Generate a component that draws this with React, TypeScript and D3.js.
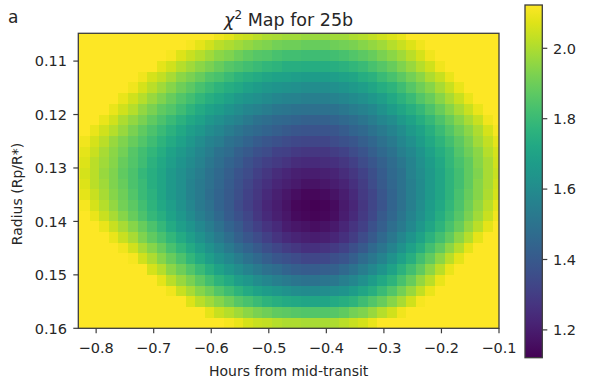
import React from "react";
import * as d3 from "d3";

// Column centres (hours from mid-transit) and row centres (Rp/R*) of the χ² grid
const hours = [
  -0.8362, -0.8195, -0.8028, -0.7862, -0.7695, -0.7528, -0.7362, -0.7195, -0.7028, -0.6862,
  -0.6695, -0.6528, -0.6362, -0.6195, -0.6028, -0.5862, -0.5695, -0.5528, -0.5362, -0.5195,
  -0.5028, -0.4862, -0.4695, -0.4528, -0.4362, -0.4195, -0.4028, -0.3862, -0.3695, -0.3528,
  -0.3362, -0.3195, -0.3028, -0.2862, -0.2695, -0.2528, -0.2362, -0.2195, -0.2028, -0.1862,
  -0.1695, -0.1528, -0.1362, -0.1195, -0.1028,
];
const radii = [
  0.105, 0.107, 0.109, 0.111, 0.113, 0.115, 0.117, 0.119, 0.121, 0.123, 0.125, 0.127, 0.129, 0.131,
  0.133, 0.135, 0.137, 0.139, 0.141, 0.143, 0.145, 0.147, 0.149, 0.151, 0.153, 0.155, 0.157, 0.159,
];

// χ² values, one row per radius (top to bottom), one column per hour
const chi2 = [
  [2.63,2.59,2.54,2.50,2.46,2.42,2.39,2.35,2.31,2.28,2.24,2.21,2.18,2.15,2.13,2.10,2.08,2.05,2.04,2.02,2.00,1.99,1.98,1.98,1.97,1.97,1.97,1.98,1.98,2.00,2.01,2.03,2.05,2.07,2.09,2.12,2.15,2.18,2.21,2.25,2.29,2.32,2.36,2.40,2.45],
  [2.56,2.52,2.48,2.44,2.40,2.36,2.32,2.28,2.24,2.21,2.17,2.14,2.11,2.08,2.05,2.02,2.00,1.98,1.96,1.94,1.93,1.91,1.90,1.90,1.89,1.89,1.89,1.90,1.91,1.92,1.94,1.96,1.98,2.01,2.04,2.07,2.10,2.14,2.18,2.22,2.26,2.30,2.35,2.39,2.44],
  [2.50,2.46,2.41,2.37,2.33,2.29,2.25,2.21,2.18,2.14,2.11,2.07,2.04,2.01,1.98,1.95,1.93,1.90,1.88,1.86,1.85,1.83,1.82,1.82,1.81,1.81,1.81,1.82,1.83,1.85,1.87,1.89,1.92,1.95,1.98,2.02,2.06,2.10,2.14,2.18,2.23,2.28,2.33,2.38,2.43],
  [2.45,2.41,2.36,2.32,2.28,2.24,2.20,2.16,2.12,2.08,2.05,2.01,1.98,1.95,1.92,1.89,1.86,1.84,1.82,1.80,1.78,1.77,1.75,1.75,1.74,1.74,1.74,1.75,1.76,1.78,1.80,1.83,1.86,1.89,1.93,1.97,2.01,2.05,2.10,2.14,2.19,2.24,2.29,2.35,2.40],
  [2.40,2.35,2.31,2.27,2.22,2.18,2.14,2.10,2.06,2.03,1.99,1.95,1.92,1.89,1.85,1.83,1.80,1.77,1.75,1.73,1.71,1.70,1.69,1.68,1.67,1.67,1.67,1.68,1.70,1.71,1.74,1.76,1.80,1.83,1.87,1.91,1.95,2.00,2.04,2.09,2.14,2.20,2.25,2.30,2.36],
  [2.35,2.31,2.26,2.22,2.18,2.14,2.10,2.06,2.02,1.98,1.94,1.90,1.87,1.83,1.80,1.77,1.74,1.72,1.69,1.67,1.65,1.64,1.63,1.62,1.61,1.61,1.61,1.62,1.64,1.66,1.68,1.71,1.74,1.77,1.81,1.86,1.90,1.94,1.99,2.04,2.09,2.14,2.20,2.25,2.30],
  [2.31,2.26,2.22,2.18,2.13,2.09,2.05,2.01,1.97,1.93,1.89,1.85,1.82,1.78,1.75,1.72,1.69,1.66,1.64,1.62,1.60,1.58,1.57,1.56,1.55,1.55,1.55,1.56,1.58,1.60,1.62,1.65,1.68,1.72,1.76,1.80,1.85,1.89,1.94,1.99,2.04,2.09,2.14,2.20,2.25],
  [2.26,2.22,2.18,2.13,2.09,2.05,2.01,1.96,1.92,1.88,1.85,1.81,1.77,1.73,1.70,1.67,1.64,1.61,1.58,1.56,1.54,1.52,1.51,1.50,1.49,1.49,1.49,1.50,1.52,1.54,1.56,1.59,1.63,1.67,1.71,1.75,1.79,1.84,1.89,1.94,1.99,2.04,2.09,2.15,2.20],
  [2.22,2.18,2.13,2.09,2.05,2.00,1.96,1.92,1.88,1.84,1.80,1.76,1.72,1.69,1.65,1.62,1.59,1.56,1.53,1.50,1.48,1.46,1.45,1.44,1.43,1.43,1.43,1.44,1.46,1.48,1.51,1.54,1.58,1.61,1.66,1.70,1.74,1.79,1.84,1.89,1.94,1.99,2.04,2.10,2.15],
  [2.18,2.14,2.09,2.05,2.01,1.97,1.92,1.88,1.84,1.80,1.76,1.72,1.68,1.65,1.61,1.58,1.54,1.51,1.48,1.46,1.44,1.42,1.40,1.39,1.38,1.38,1.38,1.39,1.41,1.44,1.46,1.50,1.53,1.57,1.61,1.66,1.70,1.75,1.80,1.85,1.90,1.95,2.00,2.06,2.11],
  [2.15,2.10,2.06,2.02,1.97,1.93,1.89,1.85,1.81,1.77,1.73,1.69,1.65,1.61,1.57,1.54,1.50,1.47,1.44,1.41,1.39,1.37,1.35,1.34,1.33,1.33,1.33,1.35,1.37,1.39,1.42,1.45,1.49,1.53,1.58,1.62,1.67,1.72,1.77,1.82,1.87,1.92,1.98,2.03,2.08],
  [2.12,2.08,2.04,1.99,1.95,1.91,1.86,1.82,1.78,1.74,1.70,1.66,1.62,1.58,1.54,1.50,1.47,1.43,1.40,1.37,1.35,1.32,1.31,1.29,1.28,1.28,1.28,1.30,1.32,1.35,1.38,1.42,1.46,1.50,1.55,1.59,1.64,1.69,1.74,1.79,1.85,1.90,1.95,2.01,2.06],
  [2.11,2.07,2.02,1.98,1.94,1.89,1.85,1.81,1.76,1.72,1.68,1.64,1.60,1.56,1.52,1.48,1.44,1.41,1.37,1.34,1.31,1.29,1.27,1.25,1.24,1.24,1.25,1.26,1.28,1.31,1.35,1.39,1.43,1.47,1.52,1.57,1.62,1.67,1.72,1.78,1.83,1.88,1.94,1.99,2.05],
  [2.11,2.06,2.02,1.97,1.93,1.88,1.84,1.79,1.75,1.71,1.66,1.62,1.58,1.54,1.50,1.46,1.42,1.38,1.35,1.31,1.28,1.25,1.23,1.21,1.20,1.20,1.21,1.22,1.25,1.28,1.32,1.36,1.41,1.46,1.50,1.56,1.61,1.66,1.71,1.77,1.82,1.88,1.93,1.99,2.04],
  [2.12,2.07,2.02,1.98,1.93,1.89,1.84,1.80,1.75,1.71,1.66,1.62,1.57,1.53,1.49,1.45,1.41,1.37,1.33,1.29,1.26,1.23,1.21,1.19,1.17,1.17,1.18,1.20,1.22,1.26,1.30,1.35,1.40,1.45,1.50,1.55,1.60,1.66,1.71,1.77,1.82,1.88,1.94,1.99,2.05],
  [2.13,2.08,2.04,1.99,1.94,1.90,1.85,1.80,1.76,1.71,1.66,1.62,1.57,1.53,1.48,1.44,1.40,1.36,1.32,1.28,1.24,1.21,1.18,1.16,1.14,1.14,1.15,1.17,1.20,1.24,1.29,1.33,1.39,1.44,1.49,1.55,1.60,1.66,1.71,1.77,1.83,1.89,1.94,2.00,2.06],
  [2.16,2.11,2.06,2.01,1.96,1.91,1.87,1.82,1.77,1.72,1.68,1.63,1.58,1.53,1.49,1.44,1.40,1.35,1.31,1.27,1.23,1.20,1.17,1.14,1.13,1.12,1.13,1.15,1.19,1.23,1.28,1.33,1.38,1.44,1.49,1.55,1.61,1.67,1.72,1.78,1.84,1.90,1.96,2.02,2.08],
  [2.19,2.14,2.09,2.04,1.99,1.94,1.89,1.84,1.79,1.75,1.70,1.65,1.60,1.55,1.51,1.46,1.41,1.37,1.33,1.28,1.24,1.21,1.18,1.15,1.14,1.13,1.14,1.16,1.20,1.24,1.29,1.34,1.40,1.45,1.51,1.57,1.62,1.68,1.74,1.80,1.86,1.92,1.98,2.04,2.10],
  [2.24,2.19,2.14,2.09,2.04,1.99,1.94,1.89,1.84,1.79,1.73,1.68,1.64,1.59,1.54,1.49,1.44,1.40,1.35,1.31,1.27,1.24,1.20,1.18,1.17,1.16,1.17,1.19,1.23,1.27,1.31,1.37,1.42,1.48,1.53,1.59,1.65,1.71,1.77,1.83,1.89,1.96,2.02,2.08,2.14],
  [2.31,2.25,2.20,2.15,2.09,2.04,1.99,1.93,1.88,1.83,1.78,1.73,1.68,1.63,1.58,1.53,1.48,1.43,1.39,1.35,1.31,1.27,1.24,1.22,1.21,1.20,1.21,1.23,1.26,1.30,1.35,1.40,1.46,1.52,1.58,1.64,1.70,1.76,1.82,1.88,1.95,2.01,2.08,2.14,2.21],
  [2.38,2.32,2.27,2.21,2.16,2.10,2.05,1.99,1.94,1.89,1.83,1.78,1.73,1.68,1.63,1.58,1.53,1.48,1.44,1.40,1.36,1.33,1.30,1.28,1.26,1.26,1.27,1.29,1.32,1.36,1.40,1.46,1.51,1.57,1.63,1.69,1.75,1.82,1.88,1.95,2.01,2.08,2.15,2.21,2.28],
  [2.45,2.39,2.33,2.28,2.22,2.16,2.11,2.05,2.00,1.94,1.89,1.84,1.78,1.73,1.68,1.63,1.59,1.54,1.50,1.46,1.42,1.39,1.37,1.35,1.33,1.33,1.34,1.36,1.38,1.42,1.47,1.52,1.57,1.63,1.69,1.75,1.82,1.88,1.95,2.02,2.08,2.15,2.22,2.29,2.36],
  [2.51,2.46,2.40,2.34,2.28,2.23,2.17,2.12,2.06,2.01,1.95,1.90,1.85,1.80,1.75,1.70,1.65,1.61,1.57,1.53,1.49,1.47,1.44,1.42,1.41,1.41,1.42,1.43,1.46,1.50,1.54,1.59,1.64,1.70,1.76,1.82,1.88,1.95,2.02,2.09,2.15,2.22,2.29,2.37,2.44],
  [2.59,2.53,2.47,2.41,2.36,2.30,2.24,2.19,2.13,2.08,2.02,1.97,1.92,1.87,1.82,1.77,1.73,1.68,1.65,1.61,1.58,1.55,1.53,1.51,1.50,1.50,1.51,1.52,1.55,1.58,1.62,1.67,1.72,1.77,1.83,1.89,1.96,2.02,2.09,2.16,2.23,2.30,2.37,2.44,2.51],
  [2.66,2.60,2.54,2.48,2.43,2.37,2.31,2.26,2.20,2.15,2.10,2.04,1.99,1.94,1.90,1.85,1.81,1.77,1.73,1.70,1.67,1.65,1.63,1.61,1.60,1.60,1.61,1.62,1.64,1.67,1.71,1.75,1.80,1.85,1.91,1.97,2.03,2.09,2.16,2.23,2.30,2.37,2.44,2.51,2.58],
  [2.71,2.65,2.60,2.54,2.48,2.43,2.37,2.32,2.27,2.22,2.17,2.12,2.07,2.02,1.98,1.94,1.90,1.86,1.83,1.80,1.77,1.75,1.73,1.72,1.71,1.71,1.71,1.73,1.75,1.77,1.81,1.85,1.89,1.94,1.99,2.05,2.11,2.17,2.23,2.30,2.36,2.43,2.50,2.57,2.64],
  [2.76,2.70,2.65,2.60,2.54,2.49,2.44,2.39,2.34,2.29,2.25,2.20,2.16,2.12,2.08,2.04,2.01,1.98,1.95,1.92,1.90,1.88,1.87,1.86,1.85,1.85,1.85,1.86,1.88,1.91,1.93,1.97,2.01,2.05,2.10,2.15,2.21,2.26,2.32,2.38,2.45,2.51,2.58,2.64,2.71],
  [2.72,2.68,2.63,2.59,2.54,2.50,2.46,2.42,2.38,2.34,2.30,2.26,2.23,2.20,2.17,2.14,2.11,2.09,2.06,2.04,2.03,2.01,2.00,2.00,1.99,1.99,1.99,2.00,2.02,2.04,2.06,2.09,2.12,2.16,2.20,2.25,2.29,2.34,2.40,2.45,2.51,2.57,2.63,2.69,2.75],
];

const xTicks = [-0.8, -0.7, -0.6, -0.5, -0.4, -0.3, -0.2, -0.1];
const yTicks = [0.11, 0.12, 0.13, 0.14, 0.15, 0.16];
const cbTicks = [1.2, 1.4, 1.6, 1.8, 2.0];
const xDomain = [-0.831, -0.1];
const yDomain = [0.1048, 0.16];
const cDomain = [1.121, 2.123];

const FONT = "DejaVu Sans, Verdana, sans-serif";
const TXT = "#262626";
const AX = "#3c3c3c";

function edgesOf(c: number[]): number[] {
  const n = c.length;
  const e: number[] = [];
  e.push(c[0] - (c[1] - c[0]) / 2);
  for (let i = 1; i < n; i++) e.push((c[i - 1] + c[i]) / 2);
  e.push(c[n - 1] + (c[n - 1] - c[n - 2]) / 2);
  return e;
}

export default function App() {
  const L = 78.3, R = 499, T = 33.3, B = 328.3;
  const x = d3.scaleLinear().domain(xDomain).range([L, R]);
  const y = d3.scaleLinear().domain(yDomain).range([T, B]);
  const color = d3.scaleSequential(d3.interpolateViridis).domain(cDomain).clamp(true);
  const cbX = 525, cbW = 17.3, cbTop = 5, cbBot = 357.7;
  const cb = d3.scaleLinear().domain(cDomain).range([cbBot, cbTop]);

  const xe = edgesOf(hours).map((v) => Math.round(x(v)));
  const ye = edgesOf(radii).map((v) => Math.round(y(v)));

  const cells: React.ReactElement[] = [];
  chi2.forEach((row, r) => {
    row.forEach((v, c) => {
      cells.push(
        <rect
          key={`${r}-${c}`}
          x={xe[c]}
          y={ye[r]}
          width={xe[c + 1] - xe[c]}
          height={ye[r + 1] - ye[r]}
          fill={color(v)}
          shapeRendering="crispEdges"
        />
      );
    });
  });

  const fx = d3.format(".1f");
  const fy = d3.format(".2f");
  const stops = d3.range(0, 1.0001, 0.05);

  return (
    <svg
      width={600}
      height={390}
      style={{ position: "absolute", left: 0, top: 0, background: "#fff" }}
      fontFamily={FONT}
    >
      <defs>
        <clipPath id="plotClip">
          <rect x={L} y={T} width={R - L} height={B - T} />
        </clipPath>
        <linearGradient id="cbGrad" x1="0" y1="1" x2="0" y2="0">
          {stops.map((s) => (
            <stop key={s} offset={s} stopColor={d3.interpolateViridis(s)} />
          ))}
        </linearGradient>
      </defs>

      <text x={8} y={23} fontSize={17} fill={TXT}>a</text>
      <text x={(L + R) / 2} y={26} fontSize={17.5} fill={TXT} textAnchor="middle">
        <tspan fontStyle="italic">χ</tspan>
        <tspan fontSize={12} dy={-7}>2</tspan>
        <tspan dy={7}> Map for 25b</tspan>
      </text>

      <g clipPath="url(#plotClip)">{cells}</g>
      <rect x={L} y={T} width={R - L} height={B - T} fill="none" stroke={AX} strokeWidth={1.3} />

      {xTicks.map((t) => (
        <g key={t}>
          <line x1={x(t)} x2={x(t)} y1={B} y2={B + 5} stroke={AX} strokeWidth={1.2} />
          <text x={x(t)} y={353} fontSize={14.5} fill={TXT} textAnchor="middle">
            {fx(t)}
          </text>
        </g>
      ))}
      {yTicks.map((t) => (
        <g key={t}>
          <line x1={L - 5} x2={L} y1={y(t)} y2={y(t)} stroke={AX} strokeWidth={1.2} />
          <text x={67} y={y(t)} dy="0.36em" fontSize={14.5} fill={TXT} textAnchor="end">
            {fy(t)}
          </text>
        </g>
      ))}

      <text x={(L + R) / 2} y={376} fontSize={14} fill={TXT} textAnchor="middle">
        Hours from mid-transit
      </text>
      <text
        transform={`translate(22,194) rotate(-90)`}
        fontSize={14}
        fill={TXT}
        textAnchor="middle"
      >
        Radius (Rp/R*)
      </text>

      <rect x={cbX} y={cbTop} width={cbW} height={cbBot - cbTop} fill="url(#cbGrad)" />
      <rect x={cbX} y={cbTop} width={cbW} height={cbBot - cbTop} fill="none" stroke={AX} strokeWidth={1.3} />
      {cbTicks.map((t) => (
        <g key={t}>
          <line x1={cbX + cbW} x2={cbX + cbW + 5} y1={cb(t)} y2={cb(t)} stroke={AX} strokeWidth={1.2} />
          <text x={553} y={cb(t)} dy="0.36em" fontSize={14.5} fill={TXT}>
            {fx(t)}
          </text>
        </g>
      ))}
    </svg>
  );
}
